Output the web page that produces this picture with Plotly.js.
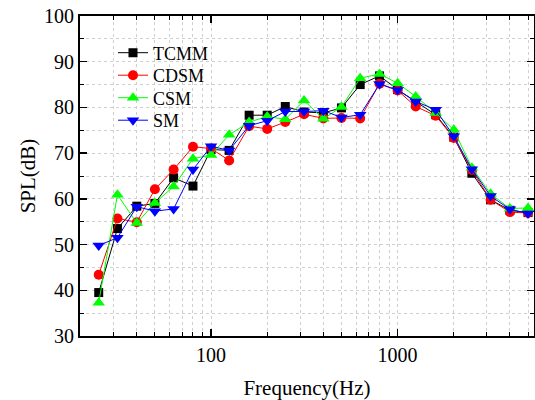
<!DOCTYPE html>
<html>
<head>
<meta charset="utf-8">
<script src="https://cdn.plot.ly/plotly-3.0.1.min.js"></script>
<style>html,body{margin:0;padding:0;background:#fff}#chart{width:535px;height:400px}</style>
</head>
<body>
<div id="chart"></div>
<script>
const freq = [25,31.5,40,50,63,80,100,125,160,200,250,315,400,500,630,800,1000,1250,1600,2000,2500,3150,4000,5000];
const tcmm = [39.5,53.5,58.4,59.0,64.6,62.8,70.8,70.6,78.3,78.3,80.2,79.0,78.8,79.9,85.0,86.9,83.9,81.2,78.4,73.5,65.6,59.8,57.5,57.0];
const cdsm = [43.4,55.7,54.9,62.1,66.4,71.4,71.0,68.4,75.9,75.3,76.8,78.5,77.6,77.7,77.6,85.2,83.7,80.2,78.2,73.3,66.3,59.8,57.1,56.9];
const csm  = [37.3,60.9,54.7,59.1,62.7,68.8,69.6,74.0,76.8,78.0,77.4,81.5,77.5,80.1,86.4,87.3,85.3,82.4,78.8,75.1,66.8,61.1,57.9,58.0];
const sm   = [49.8,51.5,58.3,57.3,57.8,66.4,71.5,70.6,76.0,77.1,79.1,79.1,79.3,77.8,78.4,85.1,83.8,81.3,79.5,73.7,66.5,60.6,57.7,56.8];
const seriesNames = ['TCMM','CDSM','CSM','SM'];
const xMajor = [100,1000];
const xMajorText = ['100','1000'];
const xMinor = [20,30,40,50,60,70,80,90,200,300,400,500,600,700,800,900,2000,3000,4000,5000];

const colors = ['#000000','#ff0000','#00ff00','#0000ff'];
const symbols = ['square','circle','triangle-up','triangle-down'];
const sizes = [9,10,11,11];
const legendIds = ['legend','legend2','legend3','legend4'];
const data = [tcmm,cdsm,csm,sm].map((y,i)=>({
  x: freq, y: y, type:'scatter', mode:'lines+markers', name: seriesNames[i],
  legend: legendIds[i],
  line:{color:colors[i], width:1},
  marker:{color:colors[i], symbol:symbols[i], size:sizes[i]}
}));

const FAM = 'Liberation Serif';
const f = (s)=>({family:FAM, size:s, color:'#000'});
const grid = '#cfcfcf';
const layout = {
  width:535, height:400,
  margin:{l:80, r:1, t:16, b:64},
  paper_bgcolor:'#fff', plot_bgcolor:'#fff',
  font: f(20),
  showlegend:true,
  xaxis:{
    type:'log', range:[1.2976, 3.731],
    tickmode:'array', tickvals:xMajor, ticktext:xMajorText,
    ticks:'inside', ticklen:7, tickwidth:1.5, tickcolor:'#000',
    showline:true, linecolor:'#000', linewidth:2, mirror:'ticks',
    showgrid:true, gridcolor:grid, gridwidth:1, griddash:'dot',
    zeroline:false,
    tickfont:f(20),
    title:{text:'Frequency(Hz)', font:f(21), standoff:16},
    minor:{tickmode:'array', tickvals:xMinor, ticks:'inside', ticklen:4, tickwidth:1, tickcolor:'#000',
           showgrid:true, gridcolor:grid, gridwidth:1, griddash:'dot'}
  },
  yaxis:{
    range:[30,100], dtick:10, tick0:0,
    ticks:'inside', ticklen:7, tickwidth:1.5, tickcolor:'#000',
    showline:true, linecolor:'#000', linewidth:2, mirror:'ticks',
    showgrid:true, gridcolor:grid, gridwidth:1, griddash:'dot',
    zeroline:false,
    tickfont:f(20),
    title:{text:'SPL(dB)', font:f(21), standoff:3},
    minor:{dtick:5, ticks:'inside', ticklen:4, tickwidth:1, tickcolor:'#000',
           showgrid:true, gridcolor:grid, gridwidth:1, griddash:'dot'}
  }
};
const rowY = [53, 75.5, 98, 120.5];
legendIds.forEach((id,i)=>{
  layout[id] = {x:(113-80)/454, y:1-(rowY[i]-16)/320, xanchor:'left', yanchor:'middle',
    bgcolor:'rgba(0,0,0,0)', borderwidth:0, font:f(18)};
});
Plotly.newPlot('chart', data, layout, {displayModeBar:false, staticPlot:true});
</script>
</body>
</html>
